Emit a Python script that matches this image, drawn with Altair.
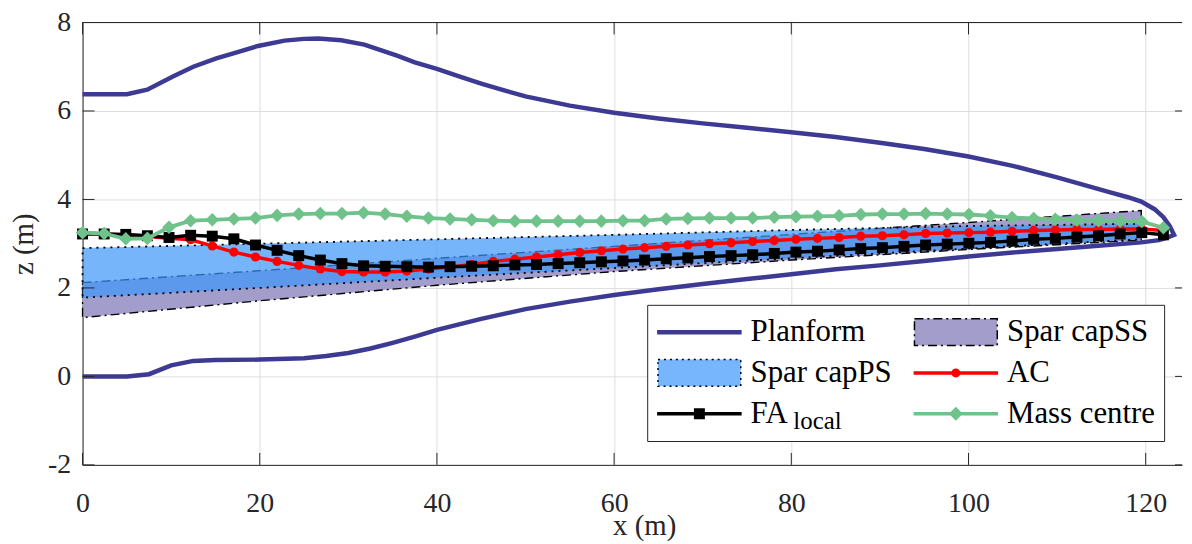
import altair as alt
import pandas as pd

FONT = "Liberation Serif, Times New Roman, Times, Nimbus Roman, DejaVu Serif, serif"
INK = "#262626"

# ---------------- data ----------------
STATION_X = [0.0, 2.44, 4.88, 7.32, 9.76, 12.2, 14.64, 17.08, 19.52, 21.96, 24.4,
             26.84, 29.28, 31.72, 34.16, 36.6, 39.04, 41.48, 43.92, 46.36, 48.8,
             51.24, 53.68, 56.12, 58.56, 61.0, 63.44, 65.88, 68.32, 70.76, 73.2,
             75.64, 78.08, 80.52, 82.96, 85.4, 87.84, 90.28, 92.72, 95.16, 97.6,
             100.04, 102.48, 104.92, 107.36, 109.8, 112.24, 114.68, 117.12, 119.56, 122.0]

AC_Z = [3.25, 3.22, 3.19, 3.16, 3.12, 3.09, 2.95, 2.81, 2.70, 2.60, 2.51, 2.43, 2.37,
        2.36, 2.36, 2.38, 2.43, 2.47, 2.53, 2.60, 2.65, 2.70, 2.75, 2.80, 2.84, 2.88,
        2.91, 2.94, 2.97, 3.00, 3.02, 3.05, 3.07, 3.10, 3.12, 3.14, 3.17, 3.18, 3.20,
        3.23, 3.24, 3.25, 3.26, 3.28, 3.30, 3.31, 3.32, 3.32, 3.33, 3.33, 3.30]

FA_Z = [3.22, 3.22, 3.21, 3.18, 3.14, 3.19, 3.17, 3.11, 2.97, 2.85, 2.73, 2.63, 2.55,
        2.50, 2.49, 2.48, 2.47, 2.48, 2.49, 2.50, 2.52, 2.53, 2.55, 2.57, 2.59, 2.61,
        2.63, 2.66, 2.68, 2.71, 2.73, 2.75, 2.78, 2.81, 2.83, 2.86, 2.89, 2.91, 2.94,
        2.97, 2.99, 3.01, 3.03, 3.06, 3.10, 3.12, 3.15, 3.18, 3.22, 3.25, 3.20]

MASS_Z = [3.25, 3.23, 3.11, 3.12, 3.37, 3.52, 3.54, 3.56, 3.58, 3.64, 3.67, 3.68, 3.68,
          3.70, 3.67, 3.62, 3.58, 3.56, 3.54, 3.52, 3.51, 3.51, 3.51, 3.51, 3.51, 3.52,
          3.52, 3.56, 3.57, 3.58, 3.58, 3.58, 3.60, 3.61, 3.62, 3.63, 3.66, 3.67, 3.67,
          3.68, 3.67, 3.66, 3.63, 3.59, 3.57, 3.55, 3.53, 3.52, 3.51, 3.50, 3.36]

PLAN_UPPER_X = [0, 5, 7.3, 10.2, 12.5, 15.1, 17.5, 19.8, 22.8, 25, 26.6, 29.2, 31.8,
                35.5, 37.5, 40, 42.5, 45, 47.5, 50, 55, 60, 65, 70, 75, 80, 85, 90,
                95, 100, 105, 110, 113, 116, 118, 119.5, 121, 122, 122.7, 123.2]
PLAN_UPPER_Z = [6.38, 6.38, 6.48, 6.78, 7.0, 7.19, 7.33, 7.47, 7.59, 7.63, 7.64, 7.6,
                7.5, 7.25, 7.1, 6.95, 6.78, 6.62, 6.47, 6.33, 6.12, 5.96, 5.83, 5.72,
                5.62, 5.52, 5.41, 5.28, 5.14, 4.97, 4.76, 4.5, 4.33, 4.16, 4.05, 3.95,
                3.78, 3.6, 3.4, 3.2]
PLAN_LOWER_X = [123.2, 122.5, 121.5, 119.5, 115, 110, 105, 100, 95, 90, 85, 80, 75,
                70, 65, 60, 55, 50, 45, 40, 37.5, 35, 32.5, 30, 27.5, 25, 20, 15,
                12.5, 10, 7.5, 5, 0]
PLAN_LOWER_Z = [3.2, 3.14, 3.08, 3.03, 2.96, 2.88, 2.8, 2.71, 2.61, 2.51, 2.42, 2.31,
                2.2, 2.09, 1.97, 1.84, 1.69, 1.52, 1.3, 1.05, 0.9, 0.76, 0.63, 0.53,
                0.46, 0.41, 0.38, 0.37, 0.35, 0.25, 0.05, 0.0, 0.0]

SPAR_X = [0, 20, 40, 60, 80, 100, 119.5]
PS_TOP = [2.90, 3.00, 3.10, 3.20, 3.31, 3.40, 3.45]
PS_BOT = [1.78, 2.00, 2.23, 2.45, 2.67, 2.89, 3.10]
SS_TOP = [2.12, 2.39, 2.67, 2.94, 3.21, 3.48, 3.75]
SS_BOT = [1.33, 1.71, 2.06, 2.37, 2.63, 2.87, 3.08]

X_TICKS = [0, 20, 40, 60, 80, 100, 120]
Y_TICKS = [-2, 0, 2, 4, 6, 8]

# legend entries, listed column by column (two columns of three)
LEGEND_ITEMS = ["Planform", "Spar capPS", "FA", "Spar capSS", "AC", "Mass centre"]
SUBSCRIPT = ["local"]

# ---------------- styles ----------------
C_PLAN = "#3d3a94"
C_SS = "#a39dcc"
C_PS = "#3d95fa"
C_PS_SEEN = "#77b5fc"
C_AC = "#ff0000"
C_FA = "#000000"
C_MASS = "#6ec28a"

BAR_PLAN = "M-1,-0.053H1V0.053H-1Z"
BOX = "M-0.98,-0.318H0.98V0.318H-0.98Z"
BAR = "M-1,-0.041H1V0.041H-1Z"
LEGEND_FILL = [C_PLAN, C_PS_SEEN, C_FA, C_SS, C_AC, C_MASS]
LEGEND_STROKE = ["transparent", "black", "transparent", "black", "transparent", "transparent"]
LEGEND_DASH = [[1, 0], [2, 4], [1, 0], [9, 4, 2, 4], [1, 0], [1, 0]]
LEGEND_SHAPES = [
    BAR_PLAN,
    BOX,
    BAR + " M-0.13,-0.13H0.13V0.13H-0.13Z",
    BOX,
    BAR + " M0.106,0 A0.106,0.106 0 1,1 -0.106,0 A0.106,0.106 0 1,1 0.106,0Z",
    BAR + " M0,-0.165L0.165,0L0,0.165L-0.165,0Z",
]

W, H = 1106, 445

xs = alt.Scale(domain=[0, 124.1], nice=False, zero=False)
ys = alt.Scale(domain=[-2, 8], nice=False, zero=False)

xaxis = alt.Axis(values=X_TICKS, grid=True, tickSize=0, labelPadding=25, labelFlush=False,
                 titleX=565, titleY=70, titleBaseline="alphabetic")
yaxis = alt.Axis(values=Y_TICKS, grid=True, tickSize=0, labelPadding=12,
                 labelExpr="replace(datum.label, '\u2212', '-')",
                 titleX=-59, titleBaseline="middle")


def X(field):
    return alt.X(f"{field}:Q", scale=xs, axis=xaxis, title="x (m)")


def Y(field):
    return alt.Y(f"{field}:Q", scale=ys, axis=yaxis, title="z (m)")


# ---------------- tables ----------------
lines_df = pd.DataFrame({"x": STATION_X, "ac": AC_Z, "fa": FA_Z, "mass": MASS_Z})
plan_df = pd.DataFrame({
    "x": PLAN_UPPER_X + PLAN_LOWER_X,
    "z": PLAN_UPPER_Z + PLAN_LOWER_Z,
    "k": list(range(len(PLAN_UPPER_X) + len(PLAN_LOWER_X))),
})
ps_df = pd.DataFrame({"x": SPAR_X, "top": PS_TOP, "bot": PS_BOT})
ss_df = pd.DataFrame({"x": SPAR_X, "top": SS_TOP, "bot": SS_BOT})
xt_df = pd.DataFrame({"v": X_TICKS})
yt_df = pd.DataFrame({"v": Y_TICKS})
legend_df = pd.DataFrame({"series": LEGEND_ITEMS})
sub_df = pd.DataFrame({"sub": SUBSCRIPT})

# ---------------- layers ----------------
ss = alt.Chart(ss_df).mark_area(fill=C_SS, stroke="black", strokeWidth=1.4,
                                strokeDash=[9, 4, 2, 4]).encode(
    x=X("x"), y=Y("top"), y2="bot")
ps = alt.Chart(ps_df).mark_area(fill=C_PS, fillOpacity=0.7, stroke="black", strokeWidth=1.8,
                                strokeDash=[2, 5]).encode(
    x=X("x"), y=Y("top"), y2="bot")

plan = alt.Chart(plan_df).mark_line(color=C_PLAN, strokeWidth=4.5).encode(
    x=X("x"), y=Y("z"), order=alt.Order("k:Q"))

ac = alt.Chart(lines_df).mark_line(
    color=C_AC, strokeWidth=3.5,
    point=alt.OverlayMarkDef(shape="circle", size=85, filled=True, color=C_AC)).encode(
    x=X("x"), y=Y("ac"))
fa = alt.Chart(lines_df).mark_line(
    color=C_FA, strokeWidth=3.5,
    point=alt.OverlayMarkDef(shape="square", size=121, filled=True, color=C_FA)).encode(
    x=X("x"), y=Y("fa"))
mass = alt.Chart(lines_df).mark_line(
    color=C_MASS, strokeWidth=3.8,
    point=alt.OverlayMarkDef(shape="diamond", size=185, filled=True, color=C_MASS)).encode(
    x=X("x"), y=Y("mass"))

top_border = alt.Chart(pd.DataFrame({"v": [Y_TICKS[-1]]})).mark_rule(
    color=INK, strokeWidth=1).encode(y=Y("v"))
tick_b = alt.Chart(xt_df).mark_rule(color=INK, strokeWidth=1).encode(
    x=X("v"), y=alt.value(H), y2=alt.value(H - 12))
tick_t = alt.Chart(xt_df).mark_rule(color=INK, strokeWidth=1).encode(
    x=X("v"), y=alt.value(0), y2=alt.value(12))
tick_l = alt.Chart(yt_df).mark_rule(color=INK, strokeWidth=1).encode(
    y=Y("v"), x=alt.value(0), x2=alt.value(12))
tick_r = alt.Chart(yt_df).mark_rule(color=INK, strokeWidth=1).encode(
    y=Y("v"), x=alt.value(W - 7), x2=alt.value(W))

leg = alt.Legend(title=None, orient="none", legendX=568, legendY=284, columns=2,
                 symbolSize=7225, symbolStrokeWidth=1.5, clipHeight=37, rowPadding=4,
                 columnPadding=20, padding=9, labelFont=FONT, labelFontSize=31,
                 labelColor="black", labelOffset=8, labelLimit=400,
                 fillColor="white", strokeColor=INK)

legend_layer = alt.Chart(legend_df).mark_point(filled=True, opacity=1).transform_filter(
    "false").encode(
    fill=alt.Fill("series:N", scale=alt.Scale(domain=LEGEND_ITEMS, range=LEGEND_FILL), legend=leg),
    stroke=alt.Stroke("series:N", scale=alt.Scale(domain=LEGEND_ITEMS, range=LEGEND_STROKE), legend=leg),
    shape=alt.Shape("series:N", scale=alt.Scale(domain=LEGEND_ITEMS, range=LEGEND_SHAPES), legend=leg),
    strokeDash=alt.StrokeDash("series:N", scale=alt.Scale(domain=LEGEND_ITEMS, range=LEGEND_DASH), legend=leg),
)

# subscript of "FA" drawn as a second, symbol-less legend so it sits above the legend box
sub_leg = alt.Legend(title=None, orient="none", legendX=690, legendY=388, symbolSize=4,
                     symbolOpacity=0, symbolStrokeWidth=0, padding=0, labelOffset=0,
                     labelFont=FONT, labelFontSize=25, labelColor="black", clipHeight=26)
sub_layer = alt.Chart(sub_df).mark_point(filled=True, opacity=1).transform_filter(
    "false").encode(
    color=alt.Color("sub:N", scale=alt.Scale(domain=SUBSCRIPT, range=["black"]), legend=sub_leg))

chart = alt.layer(
    ss, ps, plan, ac, fa, mass, top_border, tick_b, tick_t, tick_l, tick_r,
    legend_layer, sub_layer
).properties(
    width=W, height=H,
    padding={"left": 75, "top": 13, "right": 2, "bottom": 78},
    autosize=alt.AutoSizeParams(type="none"),
).configure_view(stroke=None).configure_axis(
    gridColor="#dedede", gridWidth=1, domainColor=INK, domainWidth=1,
    labelFont=FONT, labelFontSize=28, labelColor=INK,
    titleFont=FONT, titleFontSize=29, titleColor=INK, titleFontWeight="normal",
)

chart.save("out.html", embed_options={"renderer": "svg", "actions": False})
